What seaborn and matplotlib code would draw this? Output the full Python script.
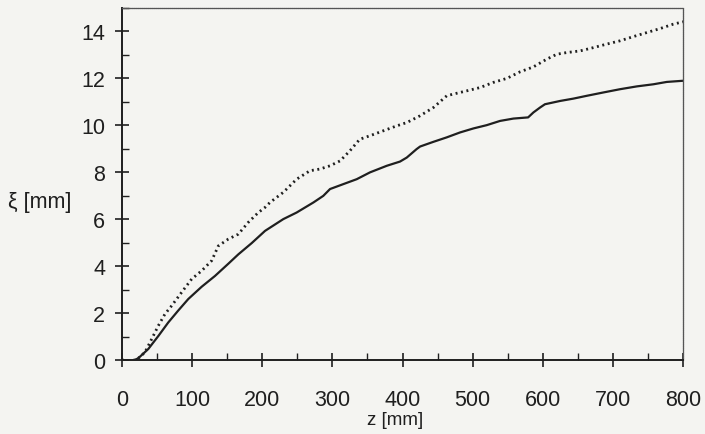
import numpy as np
import pandas as pd
import matplotlib
matplotlib.use("Agg")
import matplotlib.pyplot as plt
from matplotlib.ticker import MultipleLocator
import seaborn as sns

# Gap size along the mould height: two cases
z_solid = [0, 15, 23, 37.5, 52, 66, 80, 94.6, 113.6, 132.6, 151.6, 165.9, 185, 204,
           230, 249, 273, 287, 296.6, 315.6, 334.7, 353.6, 377.5, 396.4,
           406, 420, 425, 444, 463, 482, 501, 520, 539, 558, 579, 586.5, 596,
           603, 624.6, 643.6, 662.7, 686, 710, 734, 757.6, 776.7, 800]
xi_solid = [0, -0.03, 0.07, 0.47, 1.03, 1.6, 2.1, 2.6, 3.12, 3.58, 4.1, 4.5, 4.98, 5.5,
            6.0, 6.28, 6.71, 6.99, 7.28, 7.49, 7.7, 7.99, 8.27, 8.45,
            8.62, 8.98, 9.09, 9.29, 9.48, 9.69, 9.86, 10.0, 10.18, 10.28, 10.33, 10.54, 10.75,
            10.89, 11.03, 11.13, 11.25, 11.39, 11.53, 11.65, 11.74, 11.84, 11.89]

z_dotted = [0, 15, 23, 32.8, 42.3, 51.8, 61.3, 70.8, 85, 99.4, 113.6, 127.9, 137.4,
            151.6, 165.9, 180, 194.4, 204, 211, 230, 249, 268, 282, 296.6, 311,
            325, 339, 353.6, 372.6, 391.7, 406, 425, 444, 463, 472, 491.5, 510.5,
            529.5, 548.6, 567.5, 586.5, 605.6, 620, 634, 653, 672, 691, 710, 729,
            748, 767, 786, 800]
xi_dotted = [0, -0.03, 0.07, 0.33, 0.89, 1.46, 1.96, 2.31, 2.88, 3.45, 3.8, 4.23, 4.86,
             5.15, 5.36, 5.86, 6.28, 6.5, 6.71, 7.14, 7.7, 8.06, 8.13, 8.27, 8.48,
             8.91, 9.4, 9.55, 9.76, 9.97, 10.11, 10.4, 10.75, 11.25, 11.32, 11.46, 11.6,
             11.82, 11.99, 12.27, 12.48, 12.81, 13.02, 13.09, 13.16, 13.3, 13.45, 13.59, 13.77,
             13.94, 14.11, 14.3, 14.4]

x_ticks = [0, 100, 200, 300, 400, 500, 600, 700, 800]
y_ticks = [0, 2, 4, 6, 8, 10, 12, 14]

sns.set_style("ticks")
plt.rcParams["font.family"] = ["Liberation Sans", "DejaVu Sans"]

ink = "#1f1f1f"
paper = "#f4f4f1"

fig = plt.figure(figsize=(7.05, 4.35), dpi=100, facecolor=paper)
ax = fig.add_axes([0.173, 0.170, 0.796, 0.810])
ax.set_facecolor(paper)

df_solid = pd.DataFrame({"z": z_solid, "xi": xi_solid})
df_dotted = pd.DataFrame({"z": z_dotted, "xi": xi_dotted})

sns.lineplot(data=df_dotted, x="z", y="xi", ax=ax, color=ink, linewidth=2.0,
             linestyle=(0, (0.7, 1.3)), estimator=None, sort=False)
sns.lineplot(data=df_solid, x="z", y="xi", ax=ax, color=ink, linewidth=1.6,
             estimator=None, sort=False)

ax.set_xlim(0, 800)
ax.set_ylim(0, 15)
ax.set_xticks(x_ticks)
ax.set_yticks(y_ticks)
ax.xaxis.set_minor_locator(MultipleLocator(50))
ax.yaxis.set_minor_locator(MultipleLocator(1))

ax.tick_params(axis="both", which="major", direction="inout", length=10, width=1.2,
               color=ink, labelsize=15.5, labelcolor=ink)
ax.tick_params(axis="x", which="major", pad=16)
ax.tick_params(axis="y", which="major", pad=7)
ax.tick_params(axis="both", which="minor", direction="in", length=5, width=1.0, color=ink)

for side in ("left", "bottom"):
    ax.spines[side].set_color(ink)
    ax.spines[side].set_linewidth(1.4)
for side in ("top", "right"):
    ax.spines[side].set_visible(True)
    ax.spines[side].set_color("#555555")
    ax.spines[side].set_linewidth(0.9)
    ax.spines[side].set_linestyle((0, (1, 0.6)))

ax.set_xlabel("z [mm]", fontsize=13.5, color=ink)
ax.xaxis.set_label_coords(0.487, -0.168)
ax.xaxis.label.set_verticalalignment("center")
ax.set_ylabel("ξ [mm]", fontsize=15.5, color=ink, rotation=0)
ax.yaxis.set_label_coords(-0.146, 0.451)
ax.yaxis.label.set_verticalalignment("center")
ax.yaxis.label.set_horizontalalignment("center")

fig.savefig("out.png", dpi=100, facecolor=paper)
